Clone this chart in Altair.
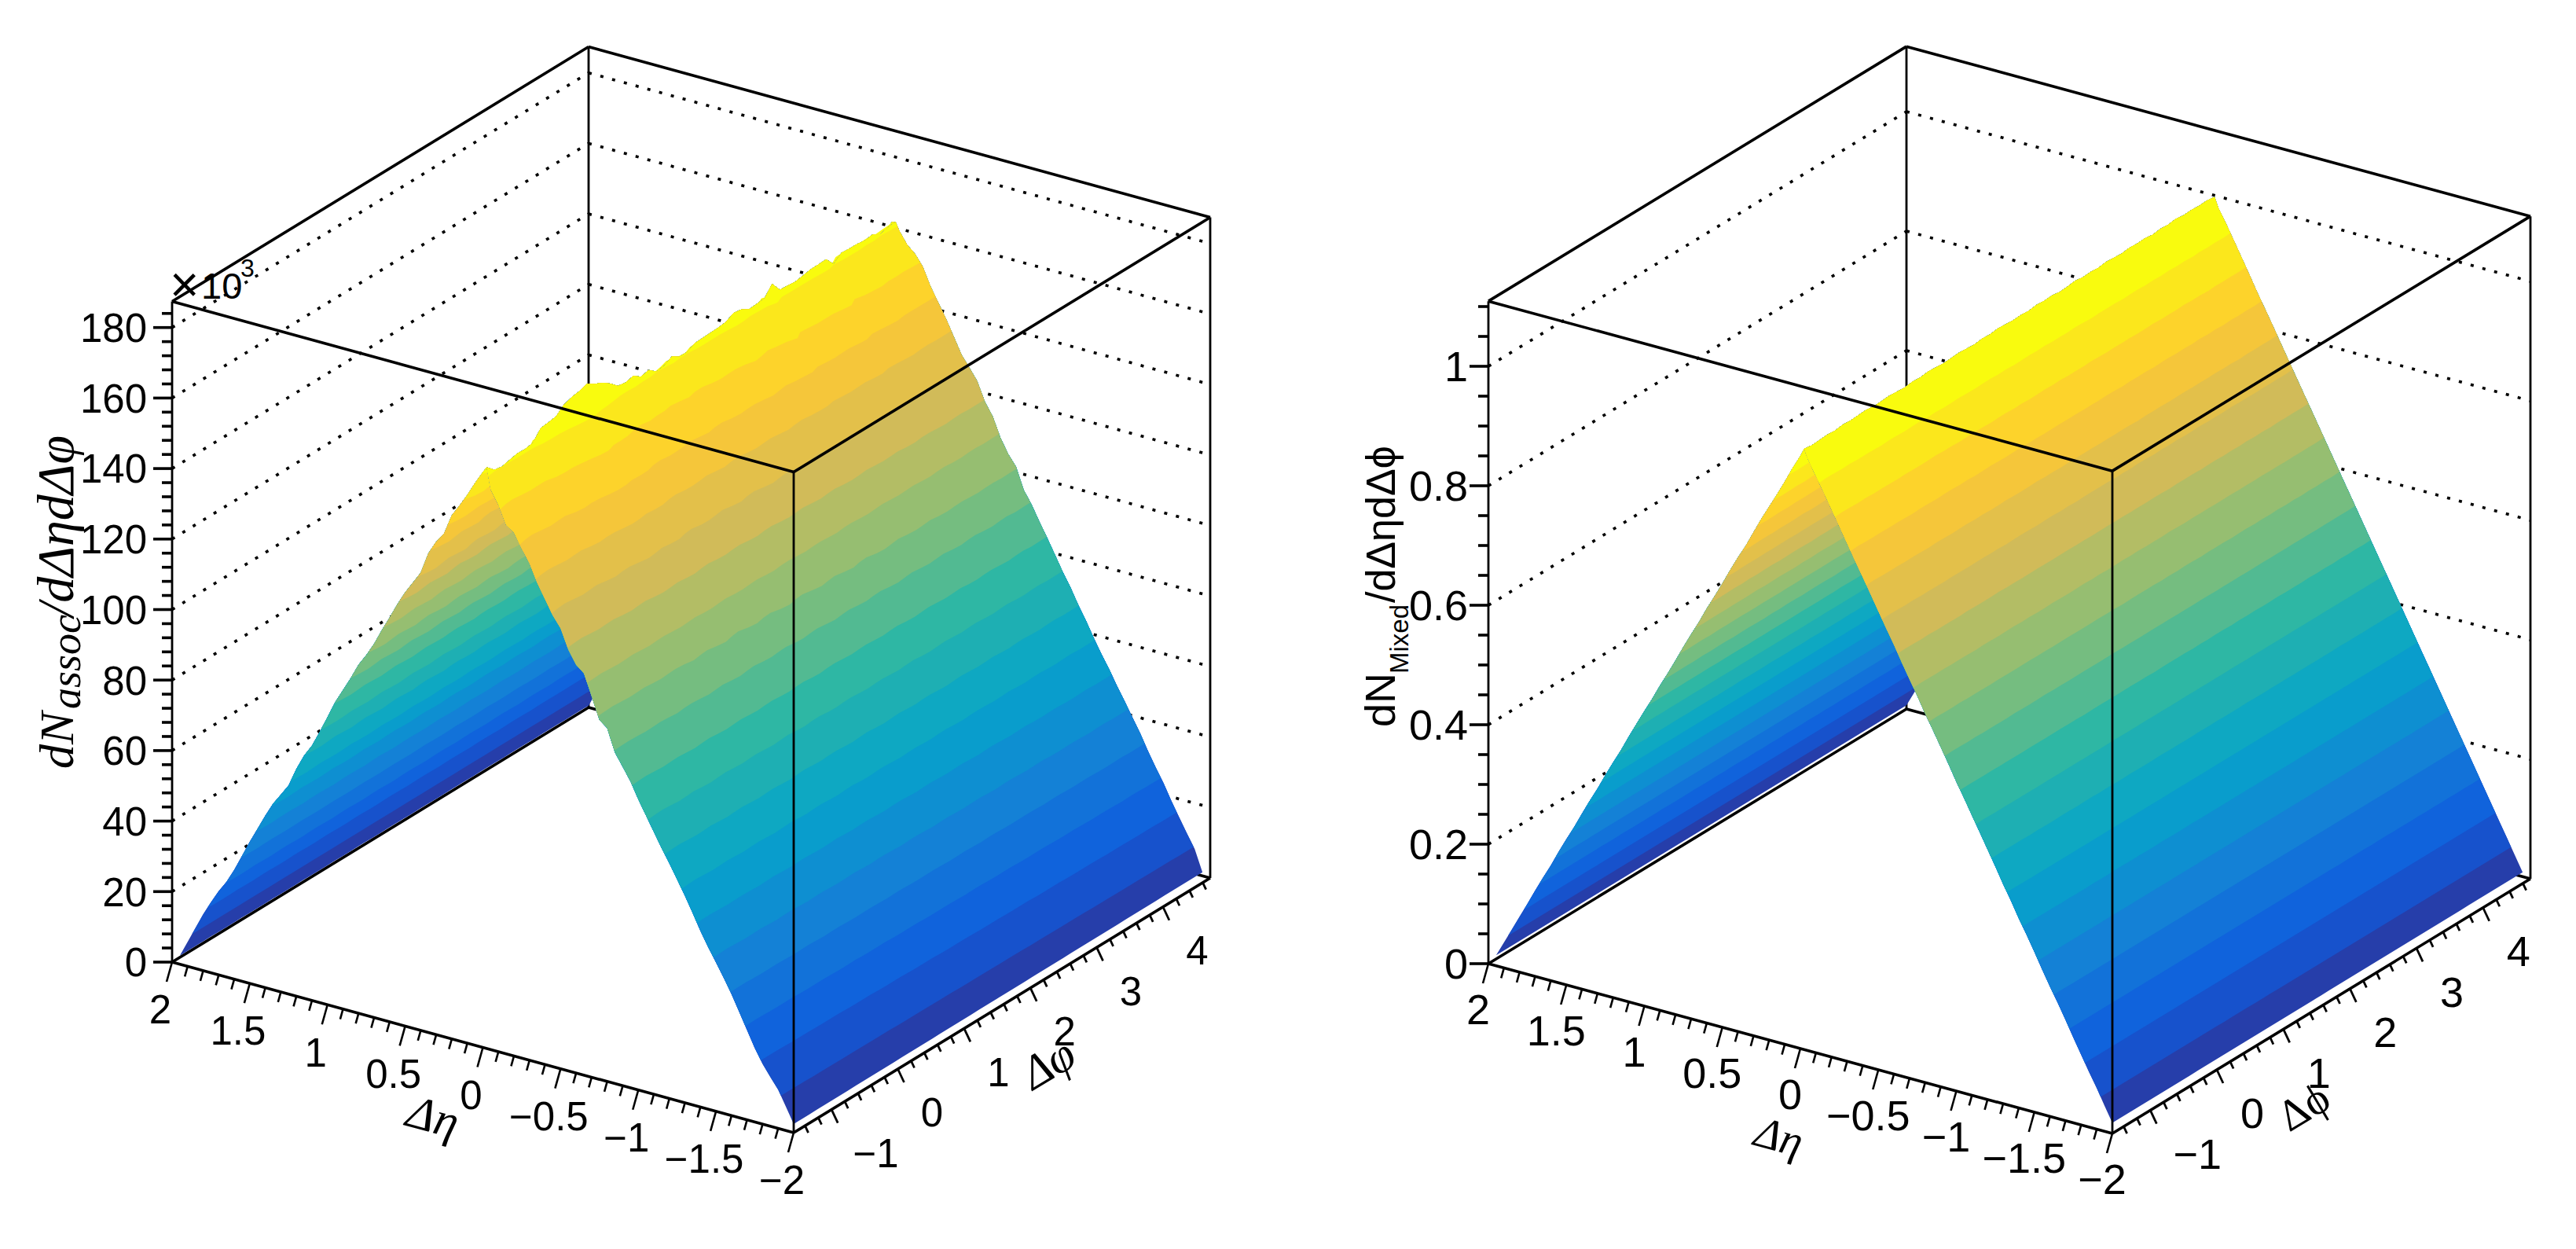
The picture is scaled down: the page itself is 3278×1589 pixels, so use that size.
import math
import numpy as np
import pandas as pd
import altair as alt

# ---------- values ----------
ETA_TICKS = [2, 1.5, 1, 0.5, 0, -0.5, -1, -1.5, -2]
ETA_LABELS = ["2", "1.5", "1", "0.5", "0", "\u22120.5", "\u22121", "\u22121.5", "\u22122"]
PHI_TICKS = [-1, 0, 1, 2, 3, 4]
PHI_LABELS = ["\u22121", "0", "1", "2", "3", "4"]

# surface height along the ridge (delta-eta = 0), one value per delta-phi bin
ridge_assoc = [163.9, 161.8, 161.4, 162.0, 162.5, 162.4, 162.8, 165.6, 165.9, 166.3, 168.2, 169.0, 169.4, 170.2,
               168.8, 167.8, 166.2, 164.2, 163.8, 164.4, 162.8, 163.4, 161.6, 161.9, 163.2, 161.8, 161.8, 163.0,
               163.1, 163.2, 163.3, 163.6, 164.8, 164.5, 163.2, 163.4, 163.6, 166.4, 163.4, 163.2, 163.0, 163.4,
               163.8, 163.9, 164.0, 161.3, 163.2, 163.0, 163.0, 162.6, 163.0, 161.7, 162.3, 162.6]
ridge_mixed = [1.000, 0.998, 0.999, 1.000, 0.999, 1.001, 1.000, 1.001, 1.002, 1.000, 1.001, 1.002, 1.001, 1.000,
               1.002, 1.001, 1.003, 1.002, 1.001, 1.002, 1.003, 1.002, 1.001, 1.003, 1.002, 1.004, 1.003, 1.002,
               1.003, 1.002, 1.004, 1.003, 1.004, 1.002, 1.003, 1.005, 1.003, 1.004, 1.003, 1.005, 1.004, 1.003,
               1.005, 1.004, 1.005, 1.003, 1.005, 1.004, 1.006, 1.004, 1.005, 1.004, 1.005, 1.003]
# height scale that the contour lines follow away from the ridge, one value per delta-phi bin
slope_assoc = [163.9, 163.0, 162.4, 163.2, 164.0, 163.3, 162.6, 163.5, 164.2, 163.2, 162.5, 163.4, 164.1, 163.3,
               162.6, 163.6, 164.2, 163.2, 162.5, 163.5, 164.0, 163.0, 162.6, 163.7, 164.1, 163.1, 162.5, 163.4,
               164.2, 163.3, 162.6, 163.5, 164.1, 163.0, 162.6, 163.7, 164.2, 163.2, 162.5, 163.3, 164.0, 163.2,
               162.5, 163.6, 164.1, 163.1, 162.6, 163.5, 164.0, 163.0, 162.5, 163.3, 163.0, 162.6]

# profiles across delta-eta, from the ridge outwards, one value per |delta-eta| bin
assoc_left_front = [162.2, 158.5, 154.5, 150.9, 147.5, 141.7, 138.8, 135.0, 128.8, 125.4, 122.0, 118.1, 113.7, 109.5,
                    105.0, 101.2, 97.9, 93.5, 89.5, 85.5, 80.6, 75.8, 71.3, 67.9, 63.5, 58.2, 55.0, 51.8, 47.8, 43.5,
                    39.2, 34.6, 30.0, 26.0, 22.8, 19.0, 15.0, 10.5, 6.0, 1.5]
assoc_right_front = [158.0, 154.2, 149.0, 147.5, 143.5, 140.0, 135.0, 131.0, 127.0, 124.0, 118.5, 114.8, 113.0, 107.1,
                     101.0, 99.3, 93.0, 89.5, 86.0, 81.5, 77.5, 73.5, 69.5, 65.8, 61.8, 57.8, 53.5, 49.0, 45.0, 41.3,
                     37.5, 33.5, 29.0, 24.5, 20.0, 16.1, 13.0, 10.0, 5.8, 1.5]
assoc_right_back = [160.3, 157.0, 155.0, 152.0, 147.0, 143.0, 139.0, 134.5, 130.0, 127.0, 123.8, 118.5, 115.0, 109.5,
                    105.5, 102.5, 96.5, 93.0, 88.8, 84.8, 80.6, 76.4, 72.6, 68.2, 64.3, 60.0, 56.0, 52.3, 48.2, 44.4,
                    40.4, 36.5, 32.1, 28.0, 24.2, 19.8, 15.8, 11.8, 8.0, 2.0]
mixed_left_front = [0.986, 0.962, 0.936, 0.911, 0.887, 0.863, 0.837, 0.811, 0.788, 0.763, 0.737, 0.712, 0.688, 0.662,
                    0.638, 0.613, 0.587, 0.562, 0.538, 0.512, 0.488, 0.463, 0.438, 0.412, 0.388, 0.363, 0.337, 0.313,
                    0.288, 0.262, 0.238, 0.213, 0.187, 0.163, 0.138, 0.112, 0.087, 0.062, 0.037, 0.012]
mixed_right_front = [0.984, 0.960, 0.936, 0.911, 0.886, 0.861, 0.836, 0.812, 0.787, 0.762, 0.737, 0.713, 0.687, 0.662,
                     0.638, 0.612, 0.588, 0.563, 0.538, 0.512, 0.488, 0.463, 0.438, 0.413, 0.388, 0.362, 0.338, 0.312,
                     0.288, 0.263, 0.237, 0.212, 0.188, 0.163, 0.137, 0.112, 0.087, 0.063, 0.037, 0.012]
mixed_right_back = [0.986, 0.963, 0.938, 0.913, 0.888, 0.862, 0.838, 0.813, 0.788, 0.763, 0.738, 0.713, 0.688, 0.663,
                    0.638, 0.613, 0.588, 0.563, 0.538, 0.513, 0.488, 0.463, 0.438, 0.413, 0.388, 0.363, 0.338, 0.313,
                    0.288, 0.263, 0.238, 0.213, 0.188, 0.163, 0.138, 0.113, 0.088, 0.063, 0.038, 0.013]
eta_bins = [0.025 + 0.05 * i for i in range(40)]

BIRD = [(0.2082, 0.1664, 0.5293), (0.0592, 0.3599, 0.8684), (0.0780, 0.5041, 0.8385), (0.0232, 0.6419, 0.7914),
        (0.1802, 0.7178, 0.6425), (0.5301, 0.7492, 0.4662), (0.8186, 0.7328, 0.3499), (0.9956, 0.7862, 0.1968),
        (0.9764, 0.9832, 0.0539)]

# ---------- page layout ----------
W1, W2, H = 1640, 1622, 1573
PANELS = [
    dict(x0=8, W=W1, L=(219, 1224), F=(1010, 1441), R=(1540, 1117), zpx=4.485, ztop=187.4,
         dz=8.5, ridge=ridge_assoc, slope=slope_assoc, left=assoc_left_front, front=assoc_right_front, back=assoc_right_back,
         zmajor=list(range(0, 181, 20)), zminor=list(range(0, 185, 4)), zlab=lambda v: str(v),
         fs=51, zlab_x=187, eta_off=(-15, 60), phi_off=(43.5, 55), neg=13,
         eta_title=(546, 1424), phi_title=(1352, 1356), phi_name="\u0394\u03c6"),
    dict(x0=8 + W1, W=W2, L=(1894, 1226), F=(2688, 1442), R=(3220, 1118), zpx=760.0, ztop=1.109,
         dz=0.05, ridge=ridge_mixed, slope=ridge_mixed, left=mixed_left_front, front=mixed_right_front, back=mixed_right_back,
         zmajor=[0, 0.2, 0.4, 0.6, 0.8, 1.0], zminor=[round(0.05 * i, 2) for i in range(23)],
         zlab=lambda v: "1" if v == 1 else ("0" if v == 0 else str(v)),
         fs=54, zlab_x=1868, eta_off=(-13, 58), phi_off=(45, 55), neg=15,
         eta_title=(2259, 1448), phi_title=(2949, 1410), phi_name="\u0394\u03d5"),
]


def bird(t):
    p = t * (len(BIRD) - 1)
    i = min(int(p), len(BIRD) - 2)
    f = p - i
    c = [BIRD[i][k] + f * (BIRD[i + 1][k] - BIRD[i][k]) for k in range(3)]
    return "#%02x%02x%02x" % tuple(int(round(255 * v)) for v in c)


def panel(P):
    Lp, Fp, Rp = P["L"], P["F"], P["R"]
    zpx = P["zpx"]

    def proj(eta, phi, z):
        a = (2 - eta) / 4.0
        b = (phi + math.pi / 2) / (2 * math.pi)
        return (Lp[0] + a * (Fp[0] - Lp[0]) + b * (Rp[0] - Fp[0]),
                Lp[1] + a * (Fp[1] - Lp[1]) + b * (Rp[1] - Fp[1]) - z * zpx)

    xs = alt.Scale(domain=[P["x0"], P["x0"] + P["W"]], nice=False, zero=False)
    ys = alt.Scale(domain=[8 + H, 8], nice=False, zero=False)

    def rules(rows, width=3.6, dash=None):
        df = pd.DataFrame(rows, columns=["x", "y", "x2", "y2"])
        kw = dict(color="black", strokeWidth=width)
        if dash:
            kw["strokeDash"] = dash
        return alt.Chart(df).mark_rule(**kw).encode(
            x=alt.X("x:Q", scale=xs, axis=None), y=alt.Y("y:Q", scale=ys, axis=None),
            x2=alt.X2("x2:Q"), y2=alt.Y2("y2:Q"))

    def seg(a, b):
        return [a[0], a[1], b[0], b[1]]

    def texts(rows, size, font="Liberation Sans", align="center", angle=0, style="normal"):
        df = pd.DataFrame(rows, columns=["x", "y", "t"])
        return alt.Chart(df).mark_text(fontSize=size, font=font, align=align, baseline="alphabetic",
                                       angle=angle, color="black", fontStyle=style).encode(
            x=alt.X("x:Q", scale=xs, axis=None), y=alt.Y("y:Q", scale=ys, axis=None), text="t:N")

    # box corners
    pL, pF, pR = proj(2, -math.pi / 2, 0), proj(-2, -math.pi / 2, 0), proj(-2, 3 * math.pi / 2, 0)
    pB = proj(2, 3 * math.pi / 2, 0)
    zt = P["ztop"]
    tL, tF, tR, tB = [(p[0], p[1] - zt * zpx) for p in (pL, pF, pR, pB)]

    layers = []
    # back walls: dotted grid and edges
    grid = []
    for z in P["zmajor"]:
        if z == 0:
            continue
        a, b, c = [(p[0], p[1] - z * zpx) for p in (pL, pB, pR)]
        grid += [seg(a, b), seg(b, c)]
    layers.append(rules(grid, 3.6, [4, 11.5]))
    layers.append(rules([seg(tL, tB), seg(tB, tR), seg(pL, pB), seg(pB, pR), seg(pL, pF), seg(pF, pR)]))
    layers.append(rules([seg(pL, tL), seg(tR, pR), seg(pB, tB)], 2.8))

    # surface: for each contour level the region above it, painted from low to high
    n = len(P["ridge"])
    phis = [-math.pi / 2 + (j + 0.5) * 2 * math.pi / n for j in range(n)]
    rk = np.array([0.0] + eta_bins)
    ridge = np.array(P["ridge"])
    guide = np.array(P["slope"])
    zmax = 20 * P["dz"]

    def slope(sign, prof_front, prof_back, name):
        Sf = np.array([1.0] + list(np.array(prof_front) / ridge[0]))
        Sb = np.array([1.0] + list(np.array(prof_back) / ridge[-1]))
        rows = []
        for k in range(20):
            c = k * P["dz"]
            mix = (c / zmax) ** 6
            eff = guide + (ridge - guide) * mix
            pts = []
            rcs = []
            for j in range(n):
                w = j / (n - 1)
                S = (1 - w) * Sf + w * Sb
                rc = float(np.interp(c / eff[j], S[::-1], rk[::-1]))
                rcs.append(rc)
                pts.append(proj(sign * rc, phis[j], min(eff[j] * float(np.interp(rc, rk, S)), ridge[j])))
            for i in range(len(rk) - 1, -1, -1):
                if rk[i] < rcs[-1]:
                    pts.append(proj(sign * rk[i], phis[-1], ridge[-1] * Sb[i]))
            for j in range(n - 1, -1, -1):
                pts.append(proj(0.0, phis[j], ridge[j]))
            for i in range(len(rk)):
                if rk[i] < rcs[0]:
                    pts.append(proj(sign * rk[i], phis[0], ridge[0] * Sf[i]))
            col = bird((k + 1) / 20.0)
            for o, (x, y) in enumerate(pts):
                rows.append((x, y, o, f"{name}{k:02d}", col))
        df = pd.DataFrame(rows, columns=["x", "y", "o", "band", "col"])
        return alt.Chart(df).mark_line(strokeWidth=0, interpolate="linear").encode(
            x=alt.X("x:Q", scale=xs, axis=None), y=alt.Y("y:Q", scale=ys, axis=None),
            detail="band:N", order=alt.Order("o:Q"), fill=alt.Fill("col:N", scale=None, legend=None))

    for k_layer in (slope(1.0, P["left"], P["left"], "l"), slope(-1.0, P["front"], P["back"], "r")):
        layers.append(k_layer)

    # front edges, over the surface
    layers.append(rules([seg(tL, tF), seg(tF, tR)]))
    layers.append(rules([seg(tF, pF)], 2.8))

    # ticks
    zt_rows, et_rows, pt_rows = [], [], []
    for z in P["zminor"]:
        p = (pL[0], pL[1] - z * zpx)
        ln = 24 if z in P["zmajor"] else 13
        zt_rows.append(seg(p, (p[0] - ln, p[1])))
    for i in range(41):
        e = round(2 - 0.1 * i, 1)
        p = proj(e, -math.pi / 2, 0)
        f = 1.0 if i % 5 == 0 else 0.52
        et_rows.append(seg(p, (p[0] - 7 * f, p[1] + 25 * f)))
    for i in range(-7, 24):
        ph = round(0.2 * i, 1)
        if ph < -math.pi / 2 or ph > 3 * math.pi / 2:
            continue
        p = proj(-2, ph, 0)
        f = 1.0 if i % 5 == 0 else 0.52
        pt_rows.append(seg(p, (p[0] + 8 * f, p[1] + 17 * f)))
    layers.append(rules(zt_rows, 3.6))
    layers.append(rules(et_rows, 2.6))
    layers.append(rules(pt_rows, 2.8))

    # tick labels
    fs = P["fs"]
    zrows = [(P["zlab_x"], pL[1] - z * zpx + 0.36 * fs, P["zlab"](z)) for z in P["zmajor"]]
    layers.append(texts(zrows, fs, align="right"))
    erows = []
    for v, t in zip(ETA_TICKS, ETA_LABELS):
        p = proj(v, -math.pi / 2, 0)
        erows.append((p[0] + P["eta_off"][0], p[1] + P["eta_off"][1] + 0.36 * fs, t))
    layers.append(texts(erows, fs))
    prows = []
    for v, t in zip(PHI_TICKS, PHI_LABELS):
        p = proj(-2, v, 0)
        prows.append((p[0] + P["phi_off"][0] + (P["neg"] if v < 0 else 0), p[1] + P["phi_off"][1] + 0.36 * fs, t))
    layers.append(texts(prows, fs))

    # axis titles
    et = P["eta_title"]
    pt = P["phi_title"]
    if P is PANELS[0]:
        layers.append(texts([(et[0], et[1] + 16, "\u0394\u03b7")], 60, font="Liberation Serif", angle=15, style="italic"))
        layers.append(texts([(pt[0] - 8, pt[1] + 14, P["phi_name"])], 60, font="Liberation Serif", angle=329, style="italic"))
        layers.append(texts([(93, 978, "dN")], 62, font="Liberation Serif", align="left", angle=270, style="italic"))
        layers.append(texts([(102, 902, "assoc")], 54, font="Liberation Serif", align="left", angle=270, style="italic"))
        layers.append(texts([(93, 785, "/d\u0394\u03b7d\u0394\u03c6")], 66, font="Liberation Serif", align="left", angle=270, style="italic"))
        layers.append(texts([(216, 384, "\u00d7")], 64, align="left"))
        layers.append(texts([(256, 380, "10")], 47, align="left"))
        layers.append(texts([(306, 352, "3")], 32, align="left"))
    else:
        layers.append(texts([(et[0], et[1] + 16, "\u0394\u03b7")], 56, font="Liberation Serif", angle=15, style="italic"))
        layers.append(texts([(pt[0] - 8, pt[1] + 14, P["phi_name"])], 56, font="Liberation Serif", angle=329))
        layers.append(texts([(1775, 925, "dN")], 54, align="left", angle=270))
        layers.append(texts([(1792, 857, "Mixed")], 33, align="left", angle=270))
        layers.append(texts([(1775, 767, "/d\u0394\u03b7d\u0394\u03d5")], 52, align="left", angle=270))

    return alt.layer(*layers).properties(width=P["W"], height=H)


chart = alt.hconcat(panel(PANELS[0]), panel(PANELS[1]), spacing=0, bounds="flush").properties(padding=0).configure_view(stroke=None)
chart.save("out.html", embed_options={"renderer": "svg", "actions": False})
